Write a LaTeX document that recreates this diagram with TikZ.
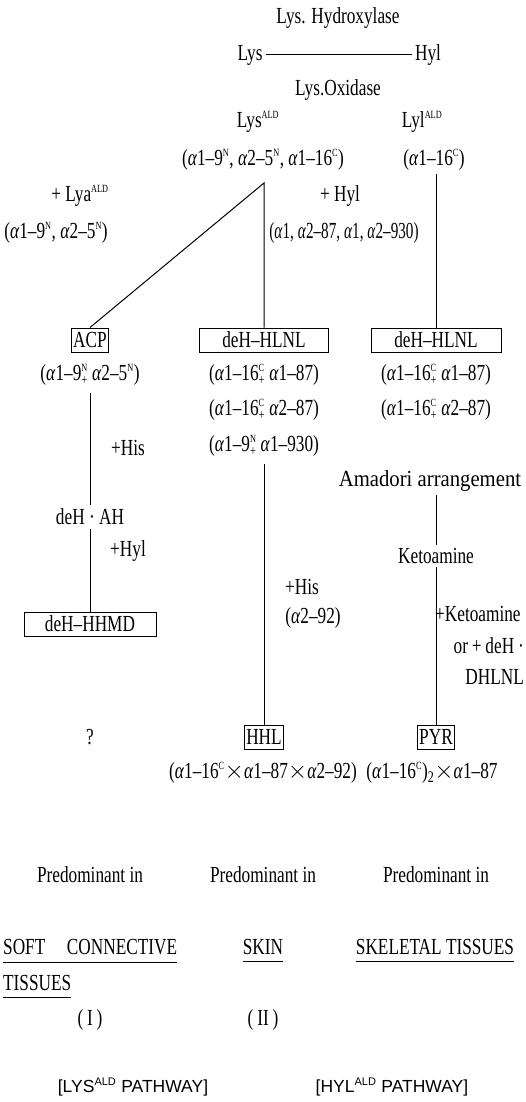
\documentclass[tikz,border=0pt]{standalone}
\usepackage{fontspec}
\usepackage{tikz}
\setmainfont[FakeStretch=0.75]{Liberation Serif}
\setsansfont{Liberation Sans}

\newcommand{\al}{\textit{α}}
\newcommand{\sups}[1]{\textsuperscript{\fontsize{11}{11}\selectfont #1}}
\newcommand{\supsub}[1]{\rlap{\sups{#1}}\textsubscript{\fontsize{14}{14}\selectfont +}}

\begin{document}
\begin{tikzpicture}[x=1pt,y=-1pt,font=\fontsize{23}{26}\selectfont,
    box/.style={draw,line width=1pt,inner sep=2pt,minimum height=24pt},
    link/.style={line width=1pt},
    uline/.style={line width=1pt}]
                \useasboundingbox (0,0) rectangle (526,1102);

                % enzymes
                \node (hydrox) at (338,18) {Lys. Hydroxylase};
                \node (lys) at (250,55) {Lys};
                \node (hyl) at (428,55) {Hyl};
                \node (oxid) at (338,90) {Lys.Oxidase};
                \draw[link] (lys) -- (hyl);

                % aldehydes
                \node (lysald) at (258,122) {Lys\sups{ALD}};
                \node (lylald) at (422,122) {Lyl\sups{ALD}};
                \node (lysrow) at (263,160) {(\al1--9\sups{N}, \al2--5\sups{N}, \al1--16\sups{C})};
                \node (lylrow) at (434,160) {(\al1--16\sups{C})};
                \coordinate (apex) at (264,183);

                % condensation partners
                \node (lya) at (80,196) {+ Lya\sups{ALD}};
                \node (lyarow) at (56,233) {(\al1--9\sups{N}, \al2--5\sups{N})};
                \node (phyl) at (340,196) {+ Hyl};
                \node (phylrow) at (344,233) {\scalebox{0.88}[1]{(\al1, \al2--87, \al1, \al2--930)}};

                % divalent cross-links
                \node[box] (acp) at (90,340) {ACP};
                \node[box,minimum width=129pt] (hlnl) at (264,340) {deH--HLNL};
                \node[box,minimum width=130pt] (hlnlr) at (436,340) {deH--HLNL};
                \draw[link] (acp.north) -- (apex) -- (hlnl.north);
                \draw[link] (lylrow.south -| hlnlr.north) -- (hlnlr.north);

                \node (acprow) at (90,375) {(\al1--9\supsub{N} \al2--5\sups{N})};
                \node (m1) at (264,375) {(\al1--16\supsub{C} \al1--87)};
                \node (m2) at (264,410) {(\al1--16\supsub{C} \al2--87)};
                \node (m3) at (264,446) {(\al1--9\supsub{N} \al1--930)};
                \node (r1) at (436,375) {(\al1--16\supsub{C} \al1--87)};
                \node (r2) at (436,410) {(\al1--16\supsub{C} \al2--87)};

                % left branch
                \node (hisl) at (128,448) {+His};
                \node (dehah) at (90,517) {deH · AH};
                \node (hyll) at (128,551) {+Hyl};
                \node[box,minimum width=132pt] (hhmd) at (90,624) {deH--HHMD};
                \draw[link,shorten <=4pt] (acprow.south) -- (dehah.north);
                \draw[link] (dehah.south) -- (hhmd.north);
                \node (quest) at (90,737) {?};

                % middle branch
                \node (hism) at (302,587) {+His};
                \node (a292) at (313,618) {(\al2--92)};
                \node[box] (hhl) at (264,737) {HHL};
                \draw[link,shorten <=4pt] (m3.south) -- (hhl.north);
                \node (hhlrow) at (263,773) {(\al1--16\sups{C}$\times$\al1--87$\times$\al2--92)};

                % right branch
                \node (amadori) at (430,481) {\scalebox{1.2}[1]{Amadori arrangement}};
                \node (keto) at (436,556) {Ketoamine};
                \node[anchor=west,inner sep=0pt] (pketo) at (435,614) {+Ketoamine};
                \node[anchor=east,inner sep=0pt] (ordeh) at (524,646) {or\,+\,deH\,·};
                \node[anchor=east,inner sep=0pt] (dhlnl) at (524,677) {DHLNL};
                \node[box] (pyr) at (436,737) {PYR};
                \draw[link] (amadori.south -| keto.north) -- (keto.north);
                \draw[link] (keto.south) -- (pyr.north);
                \node (pyrrow) at (432,773) {(\al1--16\sups{C})\textsubscript{2}$\times$\al1--87};

                % tissues
                \node (pred1) at (90,875) {Predominant in};
                \node (pred2) at (263,875) {Predominant in};
                \node (pred3) at (436,875) {Predominant in};
                \node[anchor=west,inner sep=0pt] (soft) at (3,947) {\makebox[174pt][s]{SOFT\hfill CONNECTIVE}};
                \node[anchor=west,inner sep=0pt] (tiss) at (3,983) {TISSUES};
                \node[inner sep=0pt] (skin) at (263,947) {SKIN};
                \node[inner sep=0pt] (skel) at (435,947) {SKELETAL TISSUES};
                \draw[uline] ([yshift=-7pt]soft.south west) -- ([yshift=-7pt]soft.south east);
                \draw[uline] ([yshift=-7pt]tiss.south west) -- ([yshift=-7pt]tiss.south east);
                \draw[uline] ([yshift=-7pt]skin.south west) -- ([yshift=-7pt]skin.south east);
                \draw[uline] ([yshift=-7pt]skel.south west) -- ([yshift=-7pt]skel.south east);
                \node (rom1) at (90,1020) {(\,I\,)};
                \node (rom2) at (263,1020) {(\,II\,)};

                % pathways
                \node[font=\sffamily\fontsize{17.5}{20}\selectfont] (lyspath) at (133,1087) {[LYS\sups{ALD} PATHWAY]};
                \node[font=\sffamily\fontsize{17.5}{20}\selectfont] (hylpath) at (392,1087) {[HYL\sups{ALD} PATHWAY]};
\end{tikzpicture}
\end{document}
